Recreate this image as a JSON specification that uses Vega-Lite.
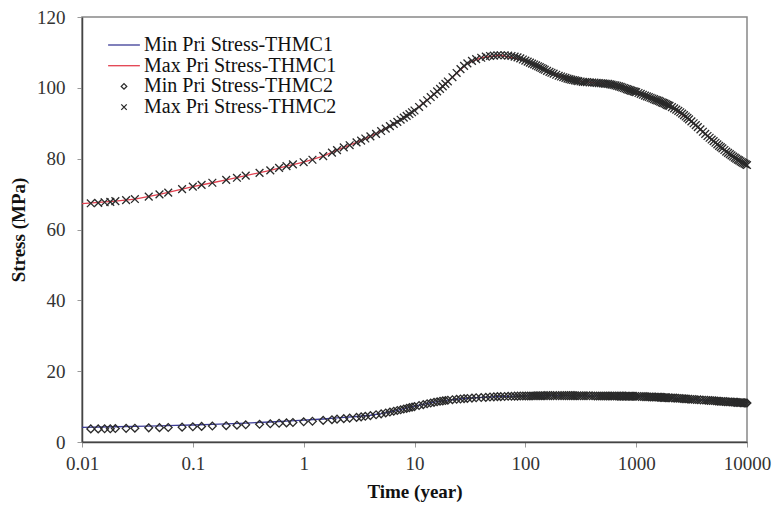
{
  "$schema": "https://vega.github.io/schema/vega-lite/v6.json",
  "width": 665,
  "height": 425,
  "autosize": {"type": "none"},
  "padding": {"left": 82, "top": 17, "right": 27, "bottom": 64},
  "background": "white",
  "datasets": {
    "thmc1": [
      {"t": 0.01, "min1": 4.15, "max1": 67.3},
      {"t": 0.02, "min1": 4.3, "max1": 68.0},
      {"t": 0.03, "min1": 4.4, "max1": 68.6},
      {"t": 0.05, "min1": 4.55, "max1": 69.9},
      {"t": 0.07, "min1": 4.7, "max1": 71.0},
      {"t": 0.1, "min1": 4.8, "max1": 72.1},
      {"t": 0.15, "min1": 5.0, "max1": 73.2},
      {"t": 0.2, "min1": 5.1, "max1": 74.0},
      {"t": 0.3, "min1": 5.35, "max1": 75.2},
      {"t": 0.5, "min1": 5.65, "max1": 76.7},
      {"t": 0.7, "min1": 5.9, "max1": 77.9},
      {"t": 1, "min1": 6.15, "max1": 79.0},
      {"t": 1.5, "min1": 6.5, "max1": 80.7},
      {"t": 2, "min1": 6.8, "max1": 82.4},
      {"t": 3, "min1": 7.2, "max1": 84.6},
      {"t": 4, "min1": 7.55, "max1": 86.3},
      {"t": 5, "min1": 8.0, "max1": 87.8},
      {"t": 7, "min1": 8.9, "max1": 90.4},
      {"t": 10, "min1": 10.1, "max1": 93.6},
      {"t": 15, "min1": 11.25, "max1": 98.2},
      {"t": 20, "min1": 11.85, "max1": 101.8},
      {"t": 30, "min1": 12.35, "max1": 106.9},
      {"t": 40, "min1": 12.6, "max1": 108.5},
      {"t": 60, "min1": 12.85, "max1": 109.2},
      {"t": 100, "min1": 13.0, "max1": 107.7},
      {"t": 150, "min1": 13.1, "max1": 105.1},
      {"t": 200, "min1": 13.1, "max1": 103.4},
      {"t": 300, "min1": 13.05, "max1": 101.9},
      {"t": 500, "min1": 13.0, "max1": 101.2},
      {"t": 700, "min1": 12.95, "max1": 100.4},
      {"t": 1000, "min1": 12.9, "max1": 98.8},
      {"t": 1500, "min1": 12.7, "max1": 96.6},
      {"t": 2000, "min1": 12.5, "max1": 94.9},
      {"t": 3000, "min1": 12.1, "max1": 91.1},
      {"t": 4000, "min1": 11.85, "max1": 87.6},
      {"t": 5000, "min1": 11.65, "max1": 85.0},
      {"t": 7000, "min1": 11.3, "max1": 81.3},
      {"t": 10000, "min1": 11.0, "max1": 78.2}
    ],
    "thmc2": [
      {"t": 0.012, "min2": 3.7, "max2": 67.4},
      {"t": 0.014, "min2": 3.7, "max2": 67.5},
      {"t": 0.016, "min2": 3.75, "max2": 67.7},
      {"t": 0.018, "min2": 3.75, "max2": 67.8},
      {"t": 0.02, "min2": 3.8, "max2": 68.0},
      {"t": 0.025, "min2": 3.85, "max2": 68.3},
      {"t": 0.03, "min2": 3.9, "max2": 68.6},
      {"t": 0.04, "min2": 4.0, "max2": 69.3},
      {"t": 0.05, "min2": 4.05, "max2": 69.9},
      {"t": 0.06, "min2": 4.1, "max2": 70.4},
      {"t": 0.08, "min2": 4.2, "max2": 71.4},
      {"t": 0.1, "min2": 4.3, "max2": 72.1},
      {"t": 0.12, "min2": 4.4, "max2": 72.6},
      {"t": 0.15, "min2": 4.5, "max2": 73.2},
      {"t": 0.2, "min2": 4.6, "max2": 74.0},
      {"t": 0.25, "min2": 4.75, "max2": 74.6},
      {"t": 0.3, "min2": 4.85, "max2": 75.2},
      {"t": 0.4, "min2": 5.0, "max2": 76.0},
      {"t": 0.5, "min2": 5.15, "max2": 76.7},
      {"t": 0.6, "min2": 5.3, "max2": 77.4},
      {"t": 0.7, "min2": 5.4, "max2": 77.9},
      {"t": 0.8, "min2": 5.5, "max2": 78.4},
      {"t": 1, "min2": 5.7, "max2": 79.0},
      {"t": 1.2, "min2": 5.85, "max2": 79.7},
      {"t": 1.5, "min2": 6.1, "max2": 80.7},
      {"t": 1.8, "min2": 6.3, "max2": 81.7},
      {"t": 2, "min2": 6.45, "max2": 82.4},
      {"t": 2.3, "min2": 6.6, "max2": 83.2},
      {"t": 2.6, "min2": 6.75, "max2": 83.8},
      {"t": 3, "min2": 6.95, "max2": 84.6},
      {"t": 3.3, "min2": 7.1, "max2": 85.1},
      {"t": 3.6, "min2": 7.25, "max2": 85.7},
      {"t": 4, "min2": 7.45, "max2": 86.3},
      {"t": 4.5, "min2": 7.7, "max2": 87.0},
      {"t": 5, "min2": 7.95, "max2": 87.8},
      {"t": 5.5, "min2": 8.2, "max2": 88.5},
      {"t": 6, "min2": 8.45, "max2": 89.2},
      {"t": 6.5, "min2": 8.7, "max2": 89.8},
      {"t": 7, "min2": 8.9, "max2": 90.4},
      {"t": 7.5, "min2": 9.1, "max2": 91.0},
      {"t": 8, "min2": 9.3, "max2": 91.6},
      {"t": 8.5, "min2": 9.5, "max2": 92.1},
      {"t": 9, "min2": 9.7, "max2": 92.6},
      {"t": 9.5, "min2": 9.85, "max2": 93.1},
      {"t": 10, "min2": 10.0, "max2": 93.6},
      {"t": 11, "min2": 10.3, "max2": 94.6},
      {"t": 12, "min2": 10.55, "max2": 95.6},
      {"t": 13, "min2": 10.8, "max2": 96.5},
      {"t": 14, "min2": 11.0, "max2": 97.4},
      {"t": 15, "min2": 11.2, "max2": 98.2},
      {"t": 16, "min2": 11.35, "max2": 99.0},
      {"t": 17, "min2": 11.5, "max2": 99.7},
      {"t": 18, "min2": 11.6, "max2": 100.4},
      {"t": 19, "min2": 11.7, "max2": 101.1},
      {"t": 20, "min2": 11.8, "max2": 101.8},
      {"t": 22, "min2": 11.95, "max2": 103.0},
      {"t": 24, "min2": 12.05, "max2": 104.2},
      {"t": 26, "min2": 12.15, "max2": 105.3},
      {"t": 28, "min2": 12.25, "max2": 106.2},
      {"t": 30, "min2": 12.3, "max2": 106.9},
      {"t": 33, "min2": 12.4, "max2": 107.6},
      {"t": 36, "min2": 12.5, "max2": 108.1},
      {"t": 40, "min2": 12.55, "max2": 108.5},
      {"t": 44, "min2": 12.6, "max2": 108.8},
      {"t": 48, "min2": 12.7, "max2": 109.0},
      {"t": 52, "min2": 12.75, "max2": 109.1},
      {"t": 56, "min2": 12.8, "max2": 109.2},
      {"t": 60, "min2": 12.8, "max2": 109.2},
      {"t": 65, "min2": 12.85, "max2": 109.2},
      {"t": 70, "min2": 12.9, "max2": 109.1},
      {"t": 75, "min2": 12.9, "max2": 109.0},
      {"t": 80, "min2": 12.95, "max2": 108.8},
      {"t": 85, "min2": 12.95, "max2": 108.6},
      {"t": 90, "min2": 13.0, "max2": 108.3},
      {"t": 95, "min2": 13.0, "max2": 108.0},
      {"t": 100, "min2": 13.0, "max2": 107.7},
      {"t": 105, "min2": 13.0, "max2": 107.4},
      {"t": 110, "min2": 13.0, "max2": 107.1},
      {"t": 115, "min2": 13.0, "max2": 106.85},
      {"t": 120, "min2": 13.05, "max2": 106.6},
      {"t": 125, "min2": 13.05, "max2": 106.35},
      {"t": 130, "min2": 13.05, "max2": 106.1},
      {"t": 135, "min2": 13.05, "max2": 105.85},
      {"t": 140, "min2": 13.05, "max2": 105.6},
      {"t": 145, "min2": 13.05, "max2": 105.35},
      {"t": 150, "min2": 13.1, "max2": 105.1},
      {"t": 157, "min2": 13.1, "max2": 104.8},
      {"t": 165, "min2": 13.1, "max2": 104.5},
      {"t": 172, "min2": 13.1, "max2": 104.25},
      {"t": 180, "min2": 13.1, "max2": 104.0},
      {"t": 190, "min2": 13.1, "max2": 103.7},
      {"t": 200, "min2": 13.1, "max2": 103.4},
      {"t": 210, "min2": 13.1, "max2": 103.2},
      {"t": 220, "min2": 13.1, "max2": 103.0},
      {"t": 230, "min2": 13.1, "max2": 102.8},
      {"t": 240, "min2": 13.1, "max2": 102.6},
      {"t": 250, "min2": 13.1, "max2": 102.45},
      {"t": 260, "min2": 13.1, "max2": 102.3},
      {"t": 270, "min2": 13.1, "max2": 102.2},
      {"t": 280, "min2": 13.1, "max2": 102.1},
      {"t": 290, "min2": 13.05, "max2": 102.0},
      {"t": 300, "min2": 13.05, "max2": 101.9},
      {"t": 315, "min2": 13.05, "max2": 101.8},
      {"t": 330, "min2": 13.05, "max2": 101.7},
      {"t": 345, "min2": 13.05, "max2": 101.65},
      {"t": 360, "min2": 13.05, "max2": 101.6},
      {"t": 380, "min2": 13.05, "max2": 101.55},
      {"t": 400, "min2": 13.05, "max2": 101.5},
      {"t": 420, "min2": 13.0, "max2": 101.45},
      {"t": 440, "min2": 13.0, "max2": 101.4},
      {"t": 460, "min2": 13.0, "max2": 101.35},
      {"t": 480, "min2": 13.0, "max2": 101.3},
      {"t": 500, "min2": 13.0, "max2": 101.25},
      {"t": 520, "min2": 13.0, "max2": 101.2},
      {"t": 540, "min2": 13.0, "max2": 101.15},
      {"t": 560, "min2": 13.0, "max2": 101.1},
      {"t": 580, "min2": 13.0, "max2": 101.0},
      {"t": 600, "min2": 13.0, "max2": 100.9},
      {"t": 625, "min2": 13.0, "max2": 100.8},
      {"t": 650, "min2": 13.0, "max2": 100.7},
      {"t": 675, "min2": 12.95, "max2": 100.55},
      {"t": 700, "min2": 12.95, "max2": 100.4},
      {"t": 725, "min2": 12.95, "max2": 100.25},
      {"t": 750, "min2": 12.95, "max2": 100.1},
      {"t": 775, "min2": 12.95, "max2": 99.95},
      {"t": 800, "min2": 12.95, "max2": 99.8},
      {"t": 825, "min2": 12.9, "max2": 99.65},
      {"t": 850, "min2": 12.9, "max2": 99.5},
      {"t": 875, "min2": 12.9, "max2": 99.35},
      {"t": 900, "min2": 12.9, "max2": 99.2},
      {"t": 925, "min2": 12.9, "max2": 99.1},
      {"t": 950, "min2": 12.9, "max2": 99.0},
      {"t": 975, "min2": 12.9, "max2": 98.9},
      {"t": 1000, "min2": 12.9, "max2": 98.8},
      {"t": 1050, "min2": 12.85, "max2": 98.55},
      {"t": 1100, "min2": 12.85, "max2": 98.3},
      {"t": 1150, "min2": 12.8, "max2": 98.05},
      {"t": 1200, "min2": 12.8, "max2": 97.8},
      {"t": 1250, "min2": 12.8, "max2": 97.6},
      {"t": 1300, "min2": 12.75, "max2": 97.4},
      {"t": 1350, "min2": 12.7, "max2": 97.2},
      {"t": 1400, "min2": 12.7, "max2": 97.0},
      {"t": 1450, "min2": 12.7, "max2": 96.8},
      {"t": 1500, "min2": 12.7, "max2": 96.6},
      {"t": 1550, "min2": 12.65, "max2": 96.45},
      {"t": 1600, "min2": 12.65, "max2": 96.3},
      {"t": 1650, "min2": 12.6, "max2": 96.1},
      {"t": 1700, "min2": 12.6, "max2": 95.9},
      {"t": 1750, "min2": 12.6, "max2": 95.75},
      {"t": 1800, "min2": 12.55, "max2": 95.6},
      {"t": 1850, "min2": 12.5, "max2": 95.4},
      {"t": 1900, "min2": 12.5, "max2": 95.2},
      {"t": 1950, "min2": 12.5, "max2": 95.05},
      {"t": 2000, "min2": 12.5, "max2": 94.9},
      {"t": 2100, "min2": 12.45, "max2": 94.55},
      {"t": 2200, "min2": 12.4, "max2": 94.2},
      {"t": 2300, "min2": 12.4, "max2": 93.85},
      {"t": 2400, "min2": 12.35, "max2": 93.5},
      {"t": 2500, "min2": 12.3, "max2": 93.1},
      {"t": 2600, "min2": 12.25, "max2": 92.7},
      {"t": 2700, "min2": 12.2, "max2": 92.3},
      {"t": 2800, "min2": 12.2, "max2": 91.9},
      {"t": 2900, "min2": 12.15, "max2": 91.5},
      {"t": 3000, "min2": 12.1, "max2": 91.1},
      {"t": 3150, "min2": 12.05, "max2": 90.55},
      {"t": 3300, "min2": 12.0, "max2": 90.0},
      {"t": 3450, "min2": 12.0, "max2": 89.45},
      {"t": 3600, "min2": 11.95, "max2": 88.9},
      {"t": 3800, "min2": 11.9, "max2": 88.25},
      {"t": 4000, "min2": 11.85, "max2": 87.6},
      {"t": 4200, "min2": 11.8, "max2": 87.0},
      {"t": 4400, "min2": 11.75, "max2": 86.4},
      {"t": 4600, "min2": 11.7, "max2": 85.9},
      {"t": 4800, "min2": 11.7, "max2": 85.4},
      {"t": 5000, "min2": 11.65, "max2": 84.95},
      {"t": 5200, "min2": 11.6, "max2": 84.5},
      {"t": 5400, "min2": 11.55, "max2": 84.05},
      {"t": 5600, "min2": 11.5, "max2": 83.6},
      {"t": 5800, "min2": 11.5, "max2": 83.25},
      {"t": 6000, "min2": 11.45, "max2": 82.9},
      {"t": 6250, "min2": 11.4, "max2": 82.45},
      {"t": 6500, "min2": 11.4, "max2": 82.0},
      {"t": 6750, "min2": 11.35, "max2": 81.65},
      {"t": 7000, "min2": 11.3, "max2": 81.3},
      {"t": 7250, "min2": 11.3, "max2": 80.95},
      {"t": 7500, "min2": 11.25, "max2": 80.6},
      {"t": 7750, "min2": 11.2, "max2": 80.3},
      {"t": 8000, "min2": 11.2, "max2": 80.0},
      {"t": 8250, "min2": 11.2, "max2": 79.75},
      {"t": 8500, "min2": 11.15, "max2": 79.5},
      {"t": 8750, "min2": 11.1, "max2": 79.25},
      {"t": 9000, "min2": 11.1, "max2": 79.0},
      {"t": 9250, "min2": 11.1, "max2": 78.8},
      {"t": 9500, "min2": 11.05, "max2": 78.6},
      {"t": 9750, "min2": 11.0, "max2": 78.4},
      {"t": 10000, "min2": 11.0, "max2": 78.2}
    ]
  },
  "encoding": {
    "x": {
      "field": "t",
      "type": "quantitative",
      "scale": {"type": "log", "domain": [0.01, 10000], "nice": false},
      "axis": {
        "title": "Time (year)",
        "values": [0.01, 0.1, 1, 10, 100, 1000, 10000],
        "format": "~g",
        "labelPadding": 7,
        "titlePadding": 9
      }
    },
    "y": {
      "field": "v",
      "type": "quantitative",
      "scale": {"domain": [0, 120], "nice": false},
      "axis": {
        "title": "Stress (MPa)",
        "values": [0, 20, 40, 60, 80, 100, 120],
        "labelPadding": 12,
        "titlePadding": 8
      }
    }
  },
  "layer": [
    {
      "data": {"name": "thmc1"},
      "transform": [{"fold": ["min1", "max1"], "as": ["k", "v"]}],
      "mark": {"type": "line", "strokeWidth": 1.3},
      "encoding": {
        "color": {
          "field": "k",
          "type": "nominal",
          "scale": {
            "domain": ["min1", "max1", "min2", "max2"],
            "range": ["#3b3b96", "#e3404f", "#2a2a2a", "#2a2a2a"]
          }
        }
      }
    },
    {
      "data": {"name": "thmc2"},
      "transform": [{"fold": ["min2", "max2"], "as": ["k", "v"]}],
      "mark": {"type": "point", "filled": false, "size": 60, "strokeWidth": 1.3, "opacity": 1},
      "encoding": {
        "color": {
          "field": "k",
          "type": "nominal",
          "scale": {
            "domain": ["min1", "max1", "min2", "max2"],
            "range": ["#3b3b96", "#e3404f", "#2a2a2a", "#2a2a2a"]
          },
          "legend": {
            "title": null,
            "orient": "none",
            "legendX": 32,
            "legendY": 18,
            "padding": 0,
            "symbolSize": 30,
            "symbolStrokeWidth": 1.3,
            "labelOffset": 10,
            "rowPadding": 0.7,
            "labelFont": "Liberation Serif",
            "labelFontSize": 20,
            "labelColor": "#111111",
            "labelLimit": 400,
            "labelExpr": "{'min1': 'Min Pri Stress-THMC1', 'max1': 'Max Pri Stress-THMC1', 'min2': 'Min Pri Stress-THMC2', 'max2': 'Max Pri Stress-THMC2'}[datum.value]"
          }
        },
        "shape": {
          "field": "k",
          "type": "nominal",
          "scale": {
            "domain": ["min1", "max1", "min2", "max2"],
            "range": ["M-5.8,0L5.8,0", "M-5.8,0L5.8,0", "diamond", "M-1,-1L1,1M-1,1L1,-1"]
          },
          "legend": {
            "title": null,
            "orient": "none",
            "legendX": 32,
            "legendY": 18,
            "padding": 0,
            "symbolSize": 30,
            "symbolStrokeWidth": 1.3,
            "labelOffset": 10,
            "rowPadding": 0.7,
            "labelFont": "Liberation Serif",
            "labelFontSize": 20,
            "labelColor": "#111111",
            "labelLimit": 400,
            "labelExpr": "{'min1': 'Min Pri Stress-THMC1', 'max1': 'Max Pri Stress-THMC1', 'min2': 'Min Pri Stress-THMC2', 'max2': 'Max Pri Stress-THMC2'}[datum.value]"
          }
        }
      }
    }
  ],
  "config": {
    "view": {"stroke": "#888888", "strokeWidth": 1.5},
    "axis": {
      "grid": false,
      "domainColor": "#444444",
      "domainWidth": 1.5,
      "tickColor": "#9a9a9a",
      "tickSize": 5,
      "tickWidth": 1,
      "labelFont": "Liberation Serif",
      "labelFontSize": 19,
      "labelColor": "#333333",
      "labelFlush": false,
      "labelOverlap": false,
      "titleFont": "Liberation Serif",
      "titleFontSize": 19,
      "titleFontWeight": "bold",
      "titleColor": "#111111"
    }
  }
}
